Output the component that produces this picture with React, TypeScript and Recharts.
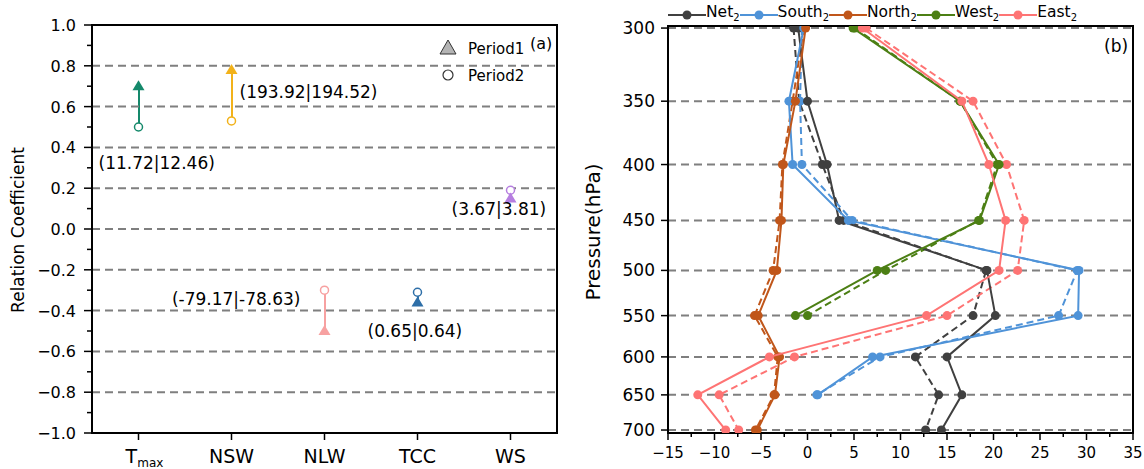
import React from "react";
import { Bar, Cell, ComposedChart, ReferenceLine, Scatter, ScatterChart, XAxis, YAxis } from "recharts";

const FONT = "'DejaVu Sans', sans-serif";

// panel (a): relation coefficients
const categories = ["Tmax", "NSW", "NLW", "TCC", "WS"];
const period1 = [0.7, 0.78, -0.5, -0.36, 0.15];
const period2 = [0.5, 0.53, -0.3, -0.31, 0.19];
const pairLabels = ["(11.72|12.46)", "(193.92|194.52)", "(-79.17|-78.63)", "(0.65|0.64)", "(3.67|3.81)"];
const coefTicks = [-1, -0.9, -0.8, -0.7, -0.6, -0.5, -0.4, -0.3, -0.2, -0.1, 0, 0.1, 0.2, 0.3, 0.4, 0.5, 0.6, 0.7, 0.8, 0.9, 1];
const coefGrid = [0.8, 0.6, 0.4, 0.2, 0, -0.2, -0.4, -0.6, -0.8];

// panel (b): profiles by pressure level
const pressures = [300, 350, 400, 450, 500, 550, 600, 650, 700];
const netSolid = [-1.0, 0.0, 2.1, 3.4, 19.3, 20.2, 15.0, 16.6, 14.4];
const netDashed = [-1.5, -0.9, 1.6, 3.9, 19.2, 17.8, 11.6, 14.1, 12.7];
const southSolid = [-0.4, -2.0, -1.6, 4.4, 29.2, 29.1, 7.0, 1.1, null];
const southDashed = [-0.6, -0.8, -0.6, 4.8, 29.0, 27.0, 7.8, 1.0, null];
const northSolid = [-0.2, -1.3, -2.6, -2.8, -3.3, -5.3, -3.0, -3.5, -5.4];
const northDashed = [-0.4, -1.6, -2.7, -3.0, -3.7, -5.7, -3.2, -3.6, -5.6];
const westSolid = [4.9, 16.4, 20.6, 18.5, 7.5, -1.3, null, null, null];
const westDashed = [5.1, 16.4, 20.4, 18.4, 8.4, 0.0, null, null, null];
const eastSolid = [5.9, 16.6, 19.5, 21.3, 20.6, 12.8, -4.1, -11.8, -8.8];
const eastDashed = [6.3, 17.8, 21.4, 23.3, 22.6, 15.0, -1.4, -9.5, -7.4];
const valueTicks = [-15, -12.5, -10, -7.5, -5, -2.5, 0, 2.5, 5, 7.5, 10, 12.5, 15, 17.5, 20, 22.5, 25, 27.5, 30, 32.5, 35];

const catColors = ["#15896b", "#f2b21a", "#f7a1a1", "#2e6fa8", "#b67ee0"];
// label offset from the Period2 circle, px
const labelLayout = [
	{ dx: -40, dy: 42, anchor: "start" },
	{ dx: 8, dy: -23, anchor: "start" },
	{ dx: -24, dy: 15, anchor: "end" },
	{ dx: -50, dy: 45, anchor: "start" },
	{ dx: -59, dy: 25, anchor: "start" },
];

const series = [
	{ name: "Net", color: "#404040", solid: netSolid, dashed: netDashed },
	{ name: "South", color: "#4f93d8", solid: southSolid, dashed: southDashed },
	{ name: "North", color: "#c0561a", solid: northSolid, dashed: northDashed },
	{ name: "West", color: "#4c7f14", solid: westSolid, dashed: westDashed },
	{ name: "East", color: "#fe7474", solid: eastSolid, dashed: eastDashed },
];

const rowsA = categories.map((cat, i) => ({ cat, p1: period1[i], p2: period2[i], label: pairLabels[i] }));

const toPoints = (vals: (number | null)[]) =>
	pressures.map((p, i) => ({ x: vals[i], p })).filter((d) => d.x !== null);

const minus = (s: string) => s.replace("-", "\u2212");

const CoefTick = ({ x, y, payload }: any) => {
	const v = payload.value;
	const major = Math.round(Math.abs(v) * 10) % 2 === 0;
	return (
		<g>
			<line x1={x - (major ? 8 : 5)} x2={x} y1={y} y2={y} stroke="#000" strokeWidth={1.5} />
			{major && (
				<text x={x - 16} y={y + 6} textAnchor="end" fontSize={16} fontFamily={FONT} fill="#000">
					{minus(v.toFixed(1))}
				</text>
			)}
		</g>
	);
};

const CatTick = ({ x, y, payload }: any) => (
	<g>
		<line x1={x} x2={x} y1={y} y2={y + 7} stroke="#000" strokeWidth={1.5} />
		{payload.value === "Tmax" ? (
			<text x={x + 6} y={y + 30} textAnchor="middle" fontSize={19} fontFamily={FONT} fill="#000">
				T<tspan fontSize={12} dy={4}>max</tspan>
			</text>
		) : (
			<text x={x} y={y + 30} textAnchor="middle" fontSize={19} fontFamily={FONT} fill="#000">
				{payload.value}
			</text>
		)}
	</g>
);

const ValueTick = ({ x, y, payload }: any) => {
	const v = payload.value;
	const major = v % 5 === 0;
	return (
		<g>
			<line x1={x} x2={x} y1={y} y2={y + (major ? 7 : 4)} stroke="#000" strokeWidth={1.5} />
			{major && (
				<text x={x} y={y + 25} textAnchor="middle" fontSize={15} fontFamily={FONT} fill="#000">
					{minus(String(v))}
				</text>
			)}
		</g>
	);
};

const PressTick = ({ x, y, payload }: any) => (
	<g>
		<line x1={x - 7} x2={x} y1={y} y2={y} stroke="#000" strokeWidth={1.5} />
		<text x={x - 13} y={y + 6} textAnchor="end" fontSize={17} fontFamily={FONT} fill="#000">
			{payload.value}
		</text>
	</g>
);

const Triangle = ({ cx, cy, payload }: any) => {
	const c = catColors[categories.indexOf(payload.cat)];
	return <polygon points={`${cx},${cy - 6} ${cx - 6},${cy + 4} ${cx + 6},${cy + 4}`} fill={c} />;
};

const OpenCircle = ({ cx, cy, payload }: any) => {
	const c = catColors[categories.indexOf(payload.cat)];
	return <circle cx={cx} cy={cy} r={4} fill="#fff" stroke={c} strokeWidth={1.5} />;
};

const PairLabel = ({ cx, cy, payload }: any) => {
	const l = labelLayout[categories.indexOf(payload.cat)];
	return (
		<text x={cx + l.dx} y={cy + l.dy} textAnchor={l.anchor as any} fontSize={17} fontFamily={FONT} fill="#000">
			{payload.label}
		</text>
	);
};

const frame = { stroke: "#000", strokeWidth: 2 };
const gridLine = { stroke: "#7f7f7f", strokeWidth: 2, strokeDasharray: "8 5" };

const App = () => (
	<div style={{ position: "absolute", left: 0, top: 0, width: 1144, height: 469, background: "#fff", fontFamily: FONT }}>
		<div style={{ position: "absolute", left: 0, top: 0 }}>
			<ComposedChart width={570} height={469} data={rowsA} margin={{ top: 25, right: 13, bottom: 6, left: 0 }}>
				<XAxis dataKey="cat" type="category" height={30} axisLine={frame} tickLine={false} tickSize={0} tickMargin={0} tick={<CatTick />} interval={0} />
				<YAxis type="number" domain={[-1, 1]} ticks={coefTicks} interval={0} allowDataOverflow width={92} axisLine={frame} tickLine={false} tickSize={0} tickMargin={0} tick={<CoefTick />} label={{ content: () => (
					<text x={24} y={230} transform="rotate(-90, 24, 230)" textAnchor="middle" fontSize={17} fontFamily={FONT} fill="#000">Relation Coefficient</text>
				) }} />
				{coefGrid.map((v) => (
					<ReferenceLine key={v} y={v} {...gridLine} />
				))}
				<Bar dataKey={(d: any) => [Math.min(d.p1, d.p2), Math.max(d.p1, d.p2)]} barSize={2} isAnimationActive={false}>
					{rowsA.map((_, i) => (
						<Cell key={i} fill={catColors[i]} />
					))}
				</Bar>
				<Scatter dataKey="p2" shape={<OpenCircle />} isAnimationActive={false} />
				<Scatter dataKey="p1" shape={<Triangle />} isAnimationActive={false} />
				<Scatter dataKey="p2" shape={<PairLabel />} isAnimationActive={false} />
			</ComposedChart>
		</div>
		<svg style={{ position: "absolute", left: 0, top: 0, pointerEvents: "none" }} width={1144} height={469}>
			<rect x={92} y={25} width={465} height={408} fill="none" stroke="#000" strokeWidth={2} />
			<rect x={668} y={26} width={465} height={407} fill="none" stroke="#000" strokeWidth={2} />
		</svg>
		<svg style={{ position: "absolute", left: 430, top: 30 }} width={140} height={60}>
			<polygon points="18,10 10,24 26,24" fill="#b4b4b4" stroke="#333" strokeWidth={1} />
			<text x={38} y={24} fontSize={15} fontFamily={FONT} fill="#000">Period1</text>
			<circle cx={18} cy={45} r={5} fill="#fff" stroke="#333" strokeWidth={1.2} />
			<text x={38} y={51} fontSize={15} fontFamily={FONT} fill="#000">Period2</text>
			<text x={100} y={19} fontSize={16} fontFamily={FONT} fill="#000">(a)</text>
		</svg>

		<div style={{ position: "absolute", left: 570, top: 0 }}>
			<ScatterChart width={574} height={469} margin={{ top: 26, right: 11, bottom: 6, left: 0 }}>
				<XAxis dataKey="x" type="number" domain={[-15, 35]} ticks={valueTicks} interval={0} allowDataOverflow height={30} axisLine={frame} tickLine={false} tickSize={0} tickMargin={0} tick={<ValueTick />} />
				<YAxis dataKey="p" type="number" scale="log" domain={[298.7, 704.4]} reversed ticks={pressures} interval={0} allowDataOverflow width={98} axisLine={frame} tickLine={false} tickSize={0} tickMargin={0} tick={<PressTick />} label={{ content: () => (
					<text x={30} y={232} transform="rotate(-90, 30, 232)" textAnchor="middle" fontSize={20} fontFamily={FONT} fill="#000">Pressure(hPa)</text>
				) }} />
				{pressures.map((p) => (
					<ReferenceLine key={p} y={p} {...gridLine} />
				))}
				{series.map((s) => (
					<Scatter
						key={s.name + "d"}
						data={toPoints(s.dashed)}
						line={{ stroke: s.color, strokeWidth: 2, strokeDasharray: "7 4" }}
						lineType="joint"
						shape={(p: any) => <circle cx={p.cx} cy={p.cy} r={4.5} fill={s.color} />}
						isAnimationActive={false}
					/>
				))}
				{series.map((s) => (
					<Scatter
						key={s.name + "s"}
						data={toPoints(s.solid)}
						line={{ stroke: s.color, strokeWidth: 2 }}
						lineType="joint"
						shape={(p: any) => <circle cx={p.cx} cy={p.cy} r={4.5} fill={s.color} />}
						isAnimationActive={false}
					/>
				))}
			</ScatterChart>
		</div>
		<div style={{ position: "absolute", left: 668, top: 2, display: "flex", alignItems: "center", fontSize: 15.5, lineHeight: "20px", color: "#000" }}>
			{series.map((s) => (
				<div key={s.name} style={{ display: "flex", alignItems: "center" }}>
					<svg width={38} height={16}>
						<line x1={0} x2={38} y1={8} y2={8} stroke={s.color} strokeWidth={2} />
						<circle cx={19} cy={8} r={4.5} fill={s.color} />
					</svg>
					<span>
						{s.name}
						<sub style={{ fontSize: 10 }}>2</sub>
					</span>
				</div>
			))}
		</div>
		<div style={{ position: "absolute", left: 1104, top: 36, fontSize: 17, color: "#000" }}>(b)</div>
	</div>
);

export default App;
